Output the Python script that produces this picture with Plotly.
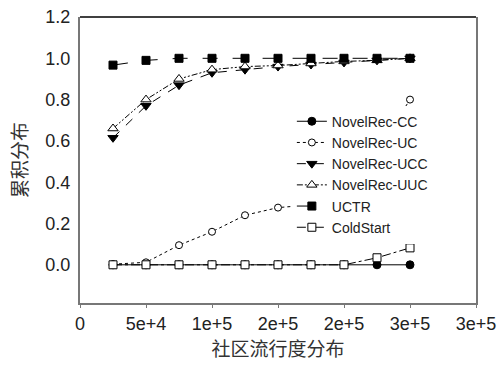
import plotly.graph_objects as go

x_vals = [25000, 50000, 75000, 100000, 125000, 150000, 175000, 200000, 225000, 250000]
cc = [0, 0, 0, 0, 0, 0, 0, 0, 0, 0]
uc = [0.003, 0.012, 0.095, 0.16, 0.24, 0.277, 0.29, 0.42, 0.55, 0.80]
ucc = [0.615, 0.77, 0.87, 0.93, 0.945, 0.96, 0.97, 0.98, 0.99, 1.0]
uuc = [0.66, 0.80, 0.90, 0.945, 0.96, 0.965, 0.975, 0.985, 0.99, 1.0]
uctr = [0.967, 0.99, 1.0, 1.0, 1.0, 1.0, 1.0, 1.0, 1.0, 1.0]
coldstart = [0, 0, 0, 0, 0, 0, 0, 0, 0.034, 0.082]

x_tickvals = [0, 50000, 100000, 150000, 200000, 250000, 300000]
x_ticktext = ["0", "5e+4", "1e+5", "2e+5", "2e+5", "3e+5", "3e+5"]
y_tickvals = [0.0, 0.2, 0.4, 0.6, 0.8, 1.0, 1.2]

latin = "Liberation Sans"
cjk = "Noto Sans CJK SC"

series = [
    ("NovelRec-CC", cc, "solid", "circle", "black", 8),
    ("NovelRec-UC", uc, "dot", "circle", "white", 7),
    ("NovelRec-UCC", ucc, "dash", "triangle-down", "black", 9),
    ("NovelRec-UUC", uuc, "6px,2px,2px,2px,2px,2px", "triangle-up", "white", 9),
    ("UCTR", uctr, "longdash", "square", "black", 8),
    ("ColdStart", coldstart, "dashdot", "square", "white", 8),
]

fig = go.Figure()
for name, ys, dash, sym, fill, size in series:
    fig.add_trace(go.Scatter(
        x=x_vals, y=ys, name=name, mode="lines+markers",
        line=dict(color="black", width=1, dash=dash),
        marker=dict(symbol=sym, size=size, color=fill,
                    line=dict(color="black", width=1)),
    ))

fig.update_layout(
    width=502, height=374,
    margin=dict(l=80, r=26, t=17, b=71),
    paper_bgcolor="white", plot_bgcolor="white",
    showlegend=True,
    legend=dict(x=0.535, y=0.69, xanchor="left", yanchor="top",
                bgcolor="white", borderwidth=0, tracegroupgap=0,
                font=dict(family=latin, size=14, color="#222222")),
    xaxis=dict(range=[0, 300000], tickvals=x_tickvals, ticktext=x_ticktext,
               showgrid=False, zeroline=False, showline=True,
               linecolor="#777777", linewidth=2, mirror=False,
               ticks="outside", ticklen=3, tickcolor="#777777", tickwidth=1,
               tickfont=dict(family=latin, size=18, color="#222222"),
               title=dict(text="社区流行度分布", font=dict(family=cjk, size=19, color="#333333"),
                          standoff=10),
               automargin=False),
    yaxis=dict(range=[-0.185, 1.2], tickvals=y_tickvals, tickformat=".1f",
               showgrid=False, zeroline=False, showline=True,
               linecolor="#777777", linewidth=2, mirror=True,
               ticks="", ticklabelstandoff=4,
               tickfont=dict(family=latin, size=18, color="#222222"),
               title=dict(text="累积分布", font=dict(family=cjk, size=19, color="#333333"),
                          standoff=13),
               automargin=False),
    shapes=[dict(type="line", xref="paper", yref="paper", x0=0, x1=1, y0=1, y1=1,
                 line=dict(color="black", width=1.5))],
)

fig.write_html("out.html", config={"displayModeBar": False},
               post_script="document.body.style.margin='0';")
